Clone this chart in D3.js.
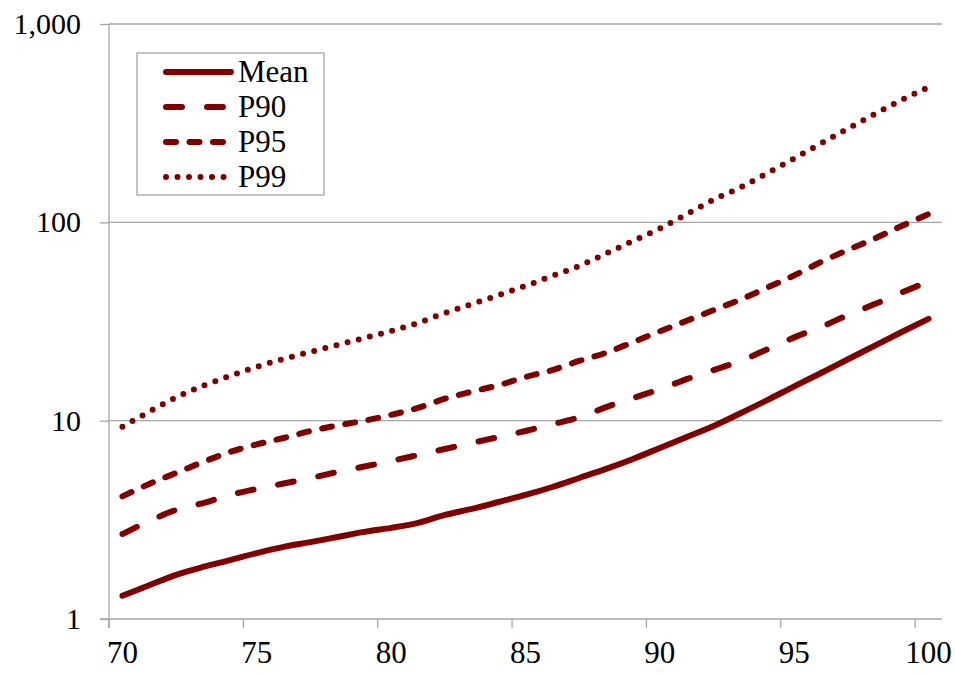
<!DOCTYPE html>
<html>
<head>
<meta charset="utf-8">
<script src="https://cdn.jsdelivr.net/npm/d3@7"></script>
<style>
  body { margin: 0; background: #fff; }
  svg text { font-family: "Liberation Serif", "Times New Roman", serif !important; fill: #000; }
</style>
</head>
<body>
<svg id="chart"></svg>
<script>
// Ages on the category axis
var ages = d3.range(70, 101);

// Series values, one per age
var meanValues = [1.31, 1.48, 1.67, 1.83, 1.98, 2.15, 2.31, 2.44, 2.59, 2.75, 2.88,
                  3.05, 3.35, 3.59, 3.89, 4.22, 4.63, 5.14, 5.71, 6.41, 7.28,
                  8.27, 9.4, 10.9, 12.7, 14.9, 17.4, 20.4, 23.9, 28.0, 32.6];
var p90Values = [2.68, 3.12, 3.55, 3.84, 4.22, 4.53, 4.82, 5.14, 5.51, 5.87, 6.26,
                 6.71, 7.2, 7.72, 8.27, 8.87, 9.6, 10.4, 11.7, 13.0, 14.4,
                 16.2, 18.0, 20.0, 22.9, 26.3, 29.7, 34.1, 38.7, 44.3, 50.3];
var p95Values = [4.15, 4.80, 5.45, 6.19, 6.95, 7.59, 8.18, 8.87, 9.46, 10.0, 10.7,
                 11.6, 12.9, 14.0, 15.1, 16.6, 18.0, 20.0, 22.0, 24.9, 28.2,
                 31.9, 36.1, 40.8, 46.9, 54.0, 63.1, 72.6, 82.9, 95.9, 110];
var p99Values = [9.33, 11.1, 13.1, 15.0, 16.8, 18.7, 20.5, 22.2, 24.1, 26.1, 28.3,
                 31.1, 34.9, 38.7, 43.0, 47.8, 53.7, 60.3, 69.7, 80.5, 93.1,
                 110, 130, 150, 177, 210, 250, 297, 352, 414, 480];

var seriesNames = ["Mean", "P90", "P95", "P99"];
var xTickLabels = [70, 75, 80, 85, 90, 95, 100];
var yTickValues = [1, 10, 100, 1000];

var width = 955, height = 675;
var plot = { left: 109, right: 942, top: 24, bottom: 619 };
var lineColor = "#800000";
var gridColor = "#a6a6a6";
var serif = "'Liberation Serif', 'Times New Roman', serif";

// stroke styles per series
var styles = {
  "Mean": { dash: null, cap: "round" },
  "P90": { dash: "16,25", cap: "round" },
  "P95": { dash: "10,13.5", cap: "round" },
  "P99": { dash: "0,11.5", cap: "round" }
};

var svg = d3.select("#chart")
  .attr("width", width)
  .attr("height", height)
  .attr("font-family", serif);

var xScale = d3.scaleBand()
  .domain(ages)
  .range([plot.left, plot.right]);

var yScale = d3.scaleLog()
  .domain([1, 1000])
  .range([plot.bottom, plot.top]);

/**
 * Horizontal gridlines and the y-axis with its labels
 */
function drawYAxis() {
  svg.append("g")
    .selectAll("line")
    .data(yTickValues.slice(1))
    .join("line")
    .attr("x1", plot.left)
    .attr("x2", plot.right)
    .attr("y1", d => yScale(d))
    .attr("y2", d => yScale(d))
    .attr("stroke", gridColor)
    .attr("stroke-width", 1.3);

  var axis = svg.append("g")
    .attr("transform", "translate(" + plot.left + ",0)")
    .call(d3.axisLeft(yScale)
      .tickValues(yTickValues)
      .tickSize(9)
      .tickPadding(19)
      .tickFormat(d3.format(",")));

  axis.attr("font-family", serif).attr("font-size", null);
  axis.select(".domain").attr("stroke", gridColor).attr("stroke-width", 1.3)
    .attr("d", "M0," + (plot.bottom + 9) + "V" + plot.top);
  axis.selectAll(".tick line").attr("stroke", gridColor).attr("stroke-width", 1.3);
  axis.selectAll(".tick text")
    .attr("font-family", serif)
    .style("font-size", "30px")
    .attr("fill", "#000");
}

/**
 * Category x-axis: tick marks between categories, labels on category centres
 */
function drawXAxis() {
  var g = svg.append("g");
  g.append("line")
    .attr("x1", plot.left - 9)
    .attr("x2", plot.right)
    .attr("y1", plot.bottom)
    .attr("y2", plot.bottom)
    .attr("stroke", gridColor)
    .attr("stroke-width", 1.3);

  g.selectAll(".xtick")
    .data(xTickLabels)
    .join("line")
    .attr("class", "xtick")
    .attr("x1", d => xScale(d))
    .attr("x2", d => xScale(d))
    .attr("y1", plot.bottom)
    .attr("y2", plot.bottom + 9)
    .attr("stroke", gridColor)
    .attr("stroke-width", 1.3);

  g.selectAll(".xlabel")
    .data(xTickLabels)
    .join("text")
    .attr("class", "xlabel")
    .attr("x", d => xScale(d) + xScale.bandwidth() / 2)
    .attr("y", 663)
    .attr("font-family", serif)
    .style("text-anchor", "middle")
    .style("font-size", "31px")
    .text(d => d);
}

/**
 * Draws one series line
 */
function drawSeries(name, values) {
  var line = d3.line()
    .x((d, i) => xScale(ages[i]) + xScale.bandwidth() / 2)
    .y(d => yScale(d))
    .curve(d3.curveMonotoneX);

  svg.append("path")
    .datum(values)
    .attr("fill", "none")
    .attr("stroke", lineColor)
    .attr("stroke-width", 6)
    .attr("stroke-linecap", styles[name].cap)
    .attr("stroke-linejoin", "round")
    .attr("stroke-dasharray", styles[name].dash)
    .attr("d", line);
}

/**
 * Legend box in the top-left corner
 */
function drawLegend() {
  var g = svg.append("g");
  g.append("rect")
    .attr("x", 137)
    .attr("y", 53)
    .attr("width", 187)
    .attr("height", 142)
    .attr("fill", "#fff")
    .attr("stroke", gridColor)
    .attr("stroke-width", 1.3);

  var rows = g.selectAll(".row")
    .data(seriesNames)
    .join("g")
    .attr("class", "row")
    .attr("transform", (d, i) => "translate(0," + (72 + i * 35) + ")");

  rows.append("line")
    .attr("x1", 166)
    .attr("x2", 231)
    .attr("stroke", lineColor)
    .attr("stroke-width", 6)
    .attr("stroke-linecap", d => styles[d].cap)
    .attr("stroke-dasharray", d => styles[d].dash);

  rows.append("text")
    .attr("x", 238)
    .attr("y", 10)
    .attr("font-family", serif)
    .style("font-size", "31px")
    .text(d => d);
}

drawYAxis();
drawXAxis();
drawSeries("Mean", meanValues);
drawSeries("P90", p90Values);
drawSeries("P95", p95Values);
drawSeries("P99", p99Values);
drawLegend();
</script>
</body>
</html>
